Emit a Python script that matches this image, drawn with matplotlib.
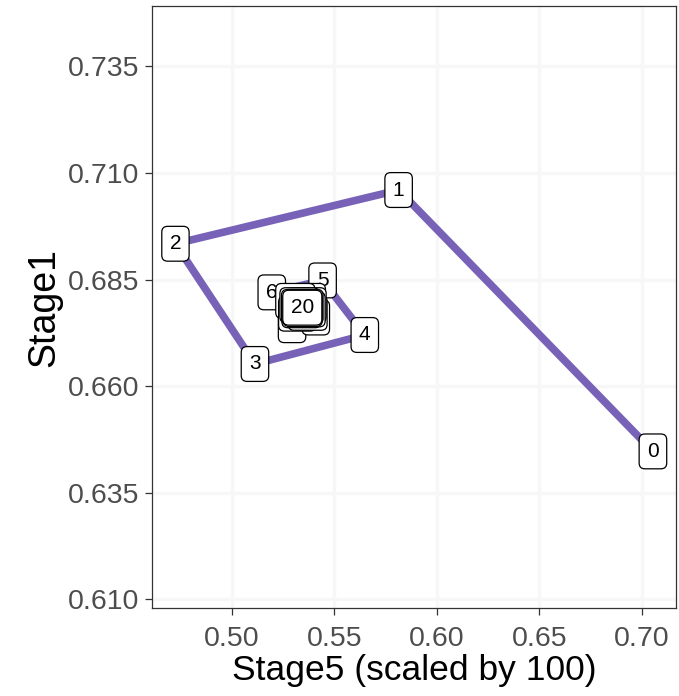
import matplotlib
matplotlib.use("Agg")
import matplotlib.pyplot as plt

plt.rcParams['font.family'] = ['Liberation Sans', 'DejaVu Sans']

# trajectory of the two stages over iterations 0..20
steps = list(range(21))
stage5 = [0.7055, 0.5814, 0.4725, 0.5113, 0.5649, 0.5443, 0.5195, 0.5294, 0.5410,
          0.5390, 0.5310, 0.5320, 0.5370, 0.5365, 0.5330, 0.5340, 0.5360, 0.5350,
          0.5338, 0.5346, 0.5344]
stage1 = [0.6447, 0.7060, 0.6934, 0.6652, 0.6720, 0.6848, 0.6820, 0.6743, 0.6761,
          0.6800, 0.6800, 0.6770, 0.6772, 0.6790, 0.6790, 0.6778, 0.6780, 0.6786,
          0.6786, 0.6781, 0.6784]

xticks = [0.50, 0.55, 0.60, 0.65, 0.70]
yticks = [0.610, 0.635, 0.660, 0.685, 0.710, 0.735]

fig = plt.figure(figsize=(6.79, 6.96), dpi=100)
ax = fig.add_axes([0.224, 0.126, 0.772, 0.865])

ax.plot(stage5, stage1, color='#7862b8', lw=5.5, solid_capstyle='round', zorder=2)

for i, (x, y) in enumerate(zip(stage5, stage1)):
    ax.text(x, y, str(steps[i]), ha='center', va='center', fontsize=15, zorder=3 + i,
            bbox=dict(boxstyle='round,pad=0.38,rounding_size=0.28', fc='white', ec='black', lw=0.9))

ax.set_xlim(0.4611, 0.7169)
ax.set_ylim(0.6079, 0.7491)
ax.set_xticks(xticks)
ax.set_xticklabels([f'{v:.2f}' for v in xticks])
ax.set_yticks(yticks)
ax.set_yticklabels([f'{v:.3f}' for v in yticks])
ax.grid(True, color='#f7f7f7', lw=2.5, zorder=0)
ax.set_axisbelow(True)

for s in ax.spines.values():
    s.set_color('#333333')
    s.set_linewidth(0.9)
ax.tick_params(colors='#333333', labelcolor='#4d4d4d', labelsize=20.5, length=5, width=0.9, pad=4)
ax.tick_params(axis='x', pad=8)

ax.set_xlabel('Stage5 (scaled by 100)', fontsize=25.5, labelpad=1)
ax.set_ylabel('Stage1', fontsize=27, labelpad=4)

fig.savefig('out.png', dpi=100)
